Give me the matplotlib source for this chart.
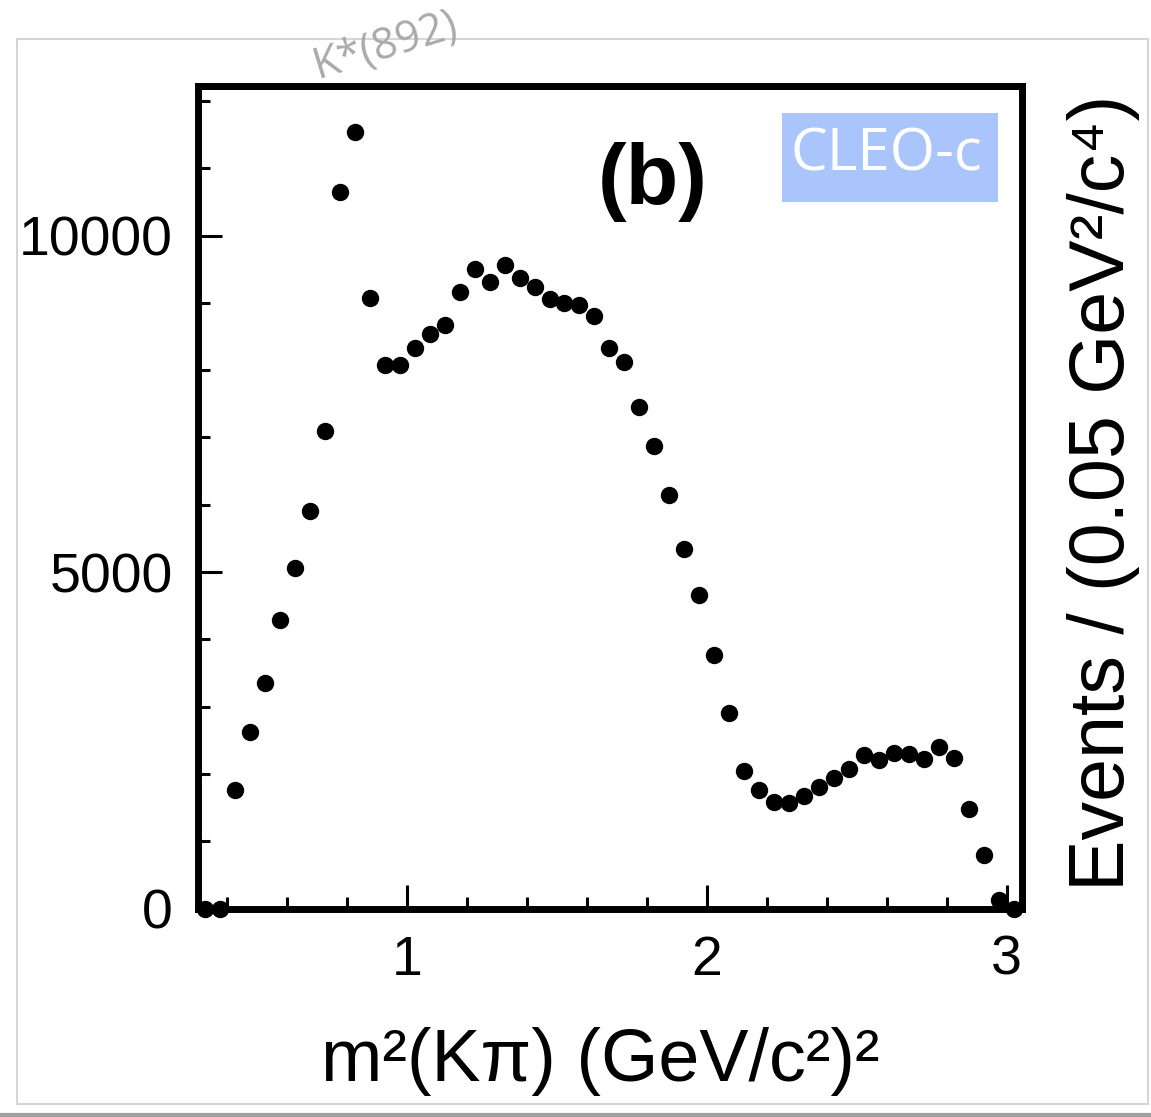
import matplotlib
matplotlib.use("Agg")
import matplotlib.pyplot as plt
import matplotlib.patches as patches
from matplotlib.ticker import MultipleLocator

# bin centres in m^2(K pi), GeV^2/c^4
m2_kpi = [0.325, 0.375, 0.425, 0.475, 0.525, 0.575, 0.625, 0.675, 0.725, 0.775,
          0.825, 0.875, 0.925, 0.975, 1.025, 1.075, 1.125, 1.175, 1.225, 1.275,
          1.325, 1.375, 1.425, 1.475, 1.525, 1.575, 1.625, 1.675, 1.725, 1.775,
          1.825, 1.875, 1.925, 1.975, 2.025, 2.075, 2.125, 2.175, 2.225, 2.275,
          2.325, 2.375, 2.425, 2.475, 2.525, 2.575, 2.625, 2.675, 2.725, 2.775,
          2.825, 2.875, 2.925, 2.975, 3.025]
events = [0, 0, 1756, 2627, 3351, 4287, 5055, 5911, 7100, 10642,
          11542, 9067, 8076, 8076, 8333, 8532, 8675, 9156, 9502, 9305,
          9562, 9373, 9239, 9061, 9001, 8963, 8808, 8333, 8116, 7452,
          6877, 6144, 5346, 4658, 3762, 2910, 2043, 1761, 1587, 1563,
          1672, 1810, 1944, 2068, 2281, 2207, 2315, 2291, 2226, 2404,
          2241, 1478, 800, 126, 0]

x_ticks = [1, 2, 3]
y_ticks = [0, 5000, 10000]

plt.rcParams['font.family'] = ['Liberation Sans', 'DejaVu Sans']

W, H = 1151, 1117
fig = plt.figure(figsize=(W / 100, H / 100), dpi=100)
fig.patch.set_facecolor('white')

# axes box in pixels: left 198, right 1021.5, top 85.5, bottom 908.5
ax = fig.add_axes([198 / W, 1 - 908.5 / H, (1021.5 - 198) / W, (908.5 - 85.5) / H])

ax.plot(m2_kpi, events, 'o', color='black', markersize=11.5, clip_on=False, zorder=5)

ax.set_xlim(0.302, 3.05)
ax.set_ylim(0, 12230)
ax.set_xticks(x_ticks)
ax.set_yticks(y_ticks)
ax.xaxis.set_minor_locator(MultipleLocator(0.2))
ax.yaxis.set_minor_locator(MultipleLocator(1000))
ax.tick_params(which='both', direction='in', top=False, right=False, width=2.2)
ax.tick_params(which='major', length=17, labelsize=40)
ax.tick_params(axis='y', which='major', pad=18)
ax.tick_params(axis='x', which='major', pad=19)
ax.tick_params(which='minor', length=8.5)
for s in ax.spines.values():
    s.set_linewidth(5)

ax.set_xlabel('m²(Kπ) (GeV/c²)²', fontsize=53)
ax.xaxis.label.set_va('center')
ax.xaxis.set_label_coords(0.488, -0.1853)

ax.set_ylabel('Events / (0.05 GeV²/c⁴)', fontsize=55.5)
ax.yaxis.set_label_position('right')
ax.yaxis.label.set_rotation_mode('default')
ax.yaxis.label.set_va('center')
ax.yaxis.label.set_ha('center')
ax.yaxis.set_label_coords(1.099, 0.505)

ax.text(0.5525, 0.883, '(b)', transform=ax.transAxes, fontsize=62,
        fontweight='bold', ha='center', va='center')

# CLEO-c badge
ax.add_patch(patches.Rectangle((0.709, 0.8588), 0.2623, 0.1083, transform=ax.transAxes,
                               facecolor='#a9c5fb', edgecolor='none', zorder=3))
ax.text(0.8365, 0.915, 'CLEO-c', transform=ax.transAxes, fontsize=42,
        family=['Open Sans', 'DejaVu Sans'], color='white', ha='center', va='center', zorder=4)

fig.text(386 / W, 1 - 45 / H, 'K*(892)', fontsize=31, color='#aaaaaa',
         family=['Open Sans', 'DejaVu Sans'], rotation=17, ha='center', va='center')

# light frame of the original panel
fig.add_artist(patches.Rectangle((17 / W, 1 - 1104 / H), (1148 - 17) / W, (1104 - 39) / H,
                                 transform=fig.transFigure, fill=False,
                                 edgecolor='#d6d6d6', linewidth=1.5))
fig.add_artist(plt.Line2D([0, 1], [1 - 1115 / H, 1 - 1115 / H], transform=fig.transFigure,
                          color='#a0a0a0', linewidth=3))

fig.savefig('out.png', dpi=100, facecolor='white')
